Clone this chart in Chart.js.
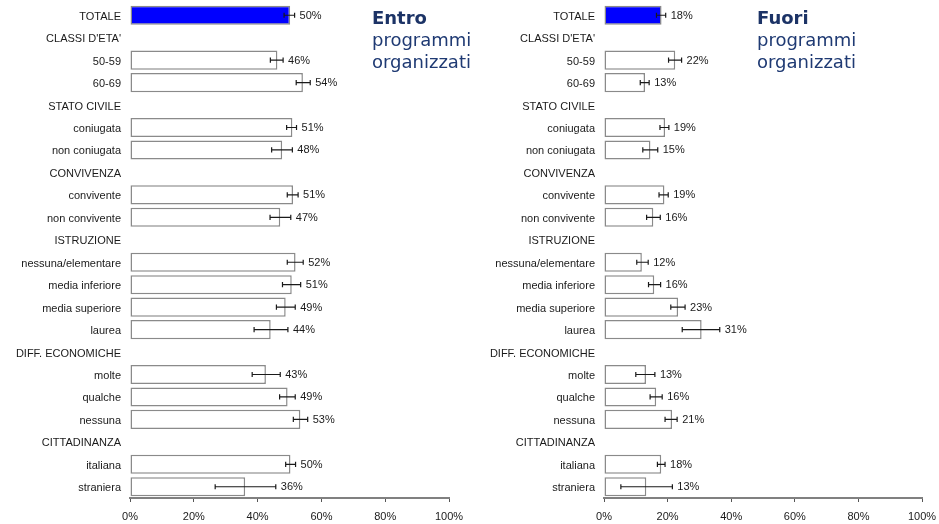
<!DOCTYPE html>
<html>
<head>
<meta charset="utf-8">
<script src="https://cdn.jsdelivr.net/npm/chart.js@4/dist/chart.umd.min.js"></script>
<style>
  html, body { margin: 0; padding: 0; background: #ffffff; }
  body { width: 939px; height: 524px; position: relative; overflow: hidden; }
  canvas { position: absolute; top: 0; }
  #cLeft { left: 0; }
  #cRight { left: 470px; }
  .ttl { position: absolute; font-family: "DejaVu Sans", Verdana, sans-serif; font-size: 18px; line-height: 22px; color: #1f3a73; }
  .ttl b { font-weight: bold; color: #1c3366; }
</style>
</head>
<body>
<canvas id="cLeft" width="470" height="524"></canvas>
<canvas id="cRight" width="469" height="524"></canvas>
<div class="ttl" style="left:372px; top:7px;"><b>Entro</b><br>programmi<br>organizzati</div>
<div class="ttl" style="left:757px; top:7px;"><b>Fuori</b><br>programmi<br>organizzati</div>
<script>
const categories = ["TOTALE", "CLASSI D'ETA'", "50-59", "60-69", "STATO CIVILE", "coniugata", "non coniugata",
  "CONVIVENZA", "convivente", "non convivente", "ISTRUZIONE", "nessuna/elementare", "media inferiore",
  "media superiore", "laurea", "DIFF. ECONOMICHE", "molte", "qualche", "nessuna", "CITTADINANZA", "italiana", "straniera"];

const entroValues = [50.2, null, 46.2, 54.2, null, 50.9, 47.7, null, 51.1, 47.1, null, 51.9, 50.7, 48.8, 44.1, null, 42.6, 49.4, 53.4, null, 50.3, 36.1];
const entroLow    = [48.3, null, 44.0, 52.1, null, 49.1, 44.4, null, 49.3, 43.9, null, 49.3, 47.8, 45.9, 38.9, null, 38.3, 46.9, 51.2, null, 48.8, 26.7];
const entroHigh   = [51.6, null, 48.0, 56.5, null, 52.2, 50.9, null, 52.7, 50.4, null, 54.3, 53.5, 51.8, 49.5, null, 47.1, 51.8, 55.7, null, 51.9, 45.7];

const fuoriValues = [18.1, null, 22.4, 12.9, null, 19.2, 14.6, null, 19.0, 15.5, null, 11.9, 15.8, 23.3, 30.7, null, 13.2, 16.4, 21.4, null, 18.0, 13.3];
const fuoriLow    = [16.5, null, 20.3, 11.4, null, 17.6, 12.2, null, 17.3, 13.4, null, 10.3, 14.0, 21.0, 24.6, null, 10.0, 14.5, 19.2, null, 16.8, 5.3];
const fuoriHigh   = [19.4, null, 24.4, 14.2, null, 20.4, 16.9, null, 20.2, 17.7, null, 13.9, 17.8, 25.5, 36.4, null, 16.0, 18.3, 23.0, null, 19.2, 21.5];

const tickLabels = ["0%", "20%", "40%", "60%", "80%", "100%"];

const FONT = '"Liberation Sans", Arial, Helvetica, sans-serif';

const errorBarPlugin = {
  id: 'errorBars',
  afterDatasetsDraw(chart, args, opts) {
    const ctx = chart.ctx;
    const xs = chart.scales.x;
    const meta = chart.getDatasetMeta(0);
    const vals = chart.data.datasets[0].data;
    const lo = opts.low, hi = opts.high;
    ctx.save();
    for (let i = 0; i < vals.length; i++) {
      if (vals[i] === null || lo[i] === null) continue;
      const y = meta.data[i].y;
      const x1 = xs.getPixelForValue(lo[i]);
      const x2 = xs.getPixelForValue(hi[i]);
      ctx.strokeStyle = '#1a1a1a';
      ctx.lineWidth = 1.2;
      ctx.beginPath();
      ctx.moveTo(x1, y); ctx.lineTo(x2, y);
      ctx.moveTo(x1, y - 2.6); ctx.lineTo(x1, y + 2.6);
      ctx.moveTo(x2, y - 2.6); ctx.lineTo(x2, y + 2.6);
      ctx.stroke();
      ctx.fillStyle = '#1a1a1a';
      ctx.font = '11px ' + FONT;
      ctx.textAlign = 'left';
      ctx.textBaseline = 'middle';
      ctx.fillText(Math.round(vals[i]) + '%', x2 + 5, y + 0.5);
    }
    ctx.restore();
  }
};

function makeChart(id, values, low, high, yWidth, padRight) {
  const fills = values.map((v, i) => i === 0 ? '#0000ff' : '#ffffff');
  return new Chart(document.getElementById(id), {
    type: 'bar',
    data: {
      labels: categories,
      datasets: [{
        data: values,
        backgroundColor: fills,
        borderColor: '#8a8a8a',
        borderWidth: 1.5,
        borderSkipped: false,
        barPercentage: 0.85,
        categoryPercentage: 1.0
      }]
    },
    options: {
      indexAxis: 'y',
      responsive: false,
      animation: false,
      devicePixelRatio: 1,
      layout: { padding: { top: 4, right: padRight, left: 0, bottom: 0 } },
      plugins: {
        legend: { display: false },
        tooltip: { enabled: false },
        errorBars: { low: low, high: high }
      },
      scales: {
        x: {
          min: 0, max: 100,
          ticks: {
            stepSize: 20,
            padding: 8,
            color: '#1a1a1a',
            font: { family: FONT, size: 11 },
            maxRotation: 0,
            callback: (v) => tickLabels[Math.round(v / 20)]
          },
          grid: { display: true, drawOnChartArea: false, drawTicks: true, tickLength: 4, color: '#555555', lineWidth: 1 },
          border: { display: true, color: '#808080', width: 2 },
          afterFit: (s) => { s.height = 26; s.paddingLeft = 0; s.paddingRight = 0; }
        },
        y: {
          ticks: {
            padding: 9,
            labelOffset: 1.5,
            color: '#1a1a1a',
            font: { family: FONT, size: 11 },
            autoSkip: false
          },
          grid: { display: false, drawTicks: false },
          border: { display: false },
          afterFit: (s) => { s.width = yWidth; s.paddingTop = 0; s.paddingBottom = 0; }
        }
      }
    },
    plugins: [errorBarPlugin]
  });
}

makeChart('cLeft', entroValues, entroLow, entroHigh, 130, 21);
makeChart('cRight', fuoriValues, fuoriLow, fuoriHigh, 134, 17);
</script>
</body>
</html>
